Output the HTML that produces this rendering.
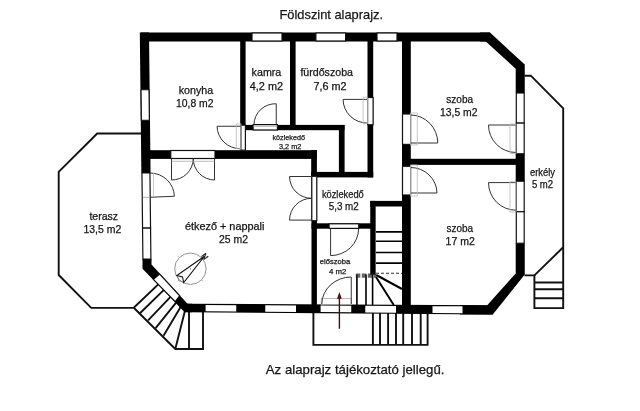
<!DOCTYPE html>
<html><head><meta charset="utf-8">
<style>
html,body{margin:0;padding:0;background:#fff;}
body{width:640px;height:411px;overflow:hidden;}
svg{display:block;will-change:transform;transform:translateZ(0);}
text{font-family:"Liberation Sans",sans-serif;fill:#161616;stroke:#161616;stroke-width:0.25;}
.w{fill:#000;}
.f{fill:#fff;stroke:#111;stroke-width:1.2;}
.l{fill:none;stroke:#111;stroke-width:1.9;}
.d{fill:none;stroke:#333;stroke-width:1;}
.g{fill:none;stroke:#bbb;stroke-width:0.8;}
.s{fill:none;stroke:#000;stroke-width:2;}
</style></head><body>
<svg width="640" height="411" viewBox="0 0 640 411">
<rect width="640" height="411" fill="#fff"/>

<!-- terrace outline -->
<path class="l" d="M141 133.5 L97.2 133.5 L58.7 171.8 L58.7 275 L91.2 307.9 L134 307.9"/>
<!-- balcony outline -->
<path class="l" d="M524.5 75.7 L530.8 75.7 L563.2 108.3 L563.2 308.1 L534.4 308.1 L534.4 275.4 L524.5 275.4"/>
<path class="l" d="M563.2 247.3 L534.4 275.4"/>
<path class="l" d="M534.4 282.5H563.2M534.4 289.2H563.2M534.4 298.25H563.2"/>

<!-- front porch -->
<path class="l" d="M313.4 312 V344.9 H427.6 V312"/>
<path class="l" d="M372.9 312V345M380 312V345M388.1 312V345M396 312V345M403.2 312V345M412 312V345M420.7 312V345"/>

<!-- terrace stairs -->
<path class="l" d="M134 308 L175.3 349 H203 V310" style="stroke-width:1.9"/>
<path class="l" d="M134 307.5 L158.8 283.9 M139.7 313.5 L164.9 288.9 M148.1 320.3 L170.5 296.8 M155.6 328.1 L176.3 302.4 M163.5 335.7 L181.2 305.9 M175.3 349 L185.4 309.1 M189 310 V349" style="stroke-width:1.9"/>

<!-- OUTER WALLS -->
<!-- top -->
<rect class="w" x="141" y="32.5" width="349" height="9"/>
<!-- NE diagonal + right wall upper -->
<polygon class="w" points="490,32.5 524.75,64.6 524.75,93 515.7,93 515.7,68.8 485.8,41.5 480,41.5 480,32.5"/>
<!-- right wall -->
<rect class="w" x="515.7" y="153.75" width="9.05" height="27.5"/>
<polygon class="w" points="515.7,243.2 524.75,243.2 524.75,274.4 492.8,314.6 460,314.4 460,305.1 487,305.5 515.7,273.4"/>
<!-- bottom wall -->
<polygon class="w" points="186,303.75 487,305.2 492.8,314.6 184.4,312.3"/>
<!-- SW diagonal + left lower -->
<polygon class="w" points="142.5,259 151.5,259 151.5,264.4 187.5,303.75 192,303.75 192,312.3 184.4,312.1 142.5,268.75"/>
<!-- left wall -->
<g transform="matrix(1,0,0.011,1,-1.55,0)"><rect class="w" x="141" y="32.5" width="9.2" height="140.5"/>

<rect class="f" x="141.6" y="89.75" width="8" height="30.5"/>
<rect class="f" x="141.6" y="173" width="8" height="55.1"/>
<path class="g" d="M142.2 197.3H149" style="stroke:#999"/>
<rect class="f" x="141.6" y="228.1" width="8" height="31"/>
</g>
<!-- INTERIOR WALLS -->
<rect class="w" x="240.2" y="41" width="5.4" height="84.5"/>
<rect class="w" x="290" y="41" width="5.6" height="84.5"/>
<rect class="w" x="245" y="124.9" width="99.5" height="5.3"/>
<rect class="w" x="338.9" y="125" width="5.7" height="52"/>
<rect class="w" x="149" y="150.2" width="167.9" height="8.7"/>
<rect class="w" x="311.2" y="150" width="5.7" height="26.5"/>
<rect class="w" x="311.2" y="171.9" width="62" height="5.5"/>
<rect class="w" x="367.5" y="41" width="5.7" height="136.4"/>
<rect class="w" x="402" y="41" width="8.8" height="264"/>
<rect class="w" x="410" y="158.8" width="107" height="6.1"/>
<rect class="w" x="311.5" y="176" width="5.4" height="129"/>
<rect class="w" x="311.5" y="223.3" width="60" height="5.4"/>
<rect class="w" x="370.25" y="200.9" width="33" height="5.6"/>
<rect class="w" x="370.25" y="200.9" width="5.4" height="73.9"/>

<!-- WINDOWS (white frames) -->
<!-- top -->
<rect class="f" x="252" y="33" width="30" height="8"/>
<rect class="f" x="315.9" y="33" width="29.7" height="8"/>
<rect class="f" x="377" y="33" width="20" height="8"/>
<!-- left -->

<!-- right -->
<rect class="f" x="516.3" y="93" width="7.9" height="30.1"/>
<rect class="f" x="516.3" y="123.1" width="7.9" height="30.65"/>
<rect class="f" x="516.3" y="181.25" width="7.9" height="30.5"/>
<rect class="f" x="516.3" y="211.75" width="7.9" height="31.5"/>
<!-- bottom -->
<polygon fill="#fff" points="205.6,305.04 236.25,305.19 236.25,311.49 205.6,311.26"/>
<polygon fill="#fff" points="265.25,305.33 296,305.48 296,311.93 265.25,311.70"/>
<polygon fill="#fff" points="320.6,305.60 351.25,305.75 351.25,312.34 320.6,312.12"/>
<polygon fill="#fff" points="365.25,305.81 396,305.96 396,312.68 365.25,312.45"/>
<polygon fill="#fff" points="432.5,306.14 462.5,306.28 462.5,313.17 432.5,312.95"/>
<!-- SW diagonal window -->
<polygon class="f" points="153.4,279.4 159.7,274 179.7,295.8 175.2,301.6"/>

<!-- interior door frames -->
<rect class="f" x="170.75" y="150.5" width="44.25" height="8"/>
<rect class="f" x="241" y="125.2" width="4.4" height="25"/>
<rect class="f" x="253.1" y="124.6" width="24.3" height="5.4"/><path class="g" d="M253.1 126.2H277.4" style="stroke:#999"/>
<rect class="f" x="367.6" y="97.5" width="5.5" height="27.25"/>
<rect class="f" x="402.5" y="114" width="8.1" height="30.4"/>
<rect class="f" x="402.5" y="166.25" width="8.1" height="28.75"/>
<rect class="f" x="311.8" y="176.25" width="5" height="44.5"/>
<rect class="f" x="329.1" y="223.8" width="29.65" height="4.6"/>

<!-- doors -->
<!-- kitchen double door -->
<path class="d" d="M171.5 158.75 V180 A21.5 21.5 0 0 0 193.25 158.75 M214.5 158.75 V180 A21.5 21.5 0 0 1 193.25 158.75"/>
<path class="g" d="M171.5 161.3 H214.5" style="stroke:#aaa"/>
<!-- konyha->kozlekedo door -->
<path class="d" d="M241 126.25 H217.1 A23.5 22.5 0 0 0 240.5 148.75"/><rect class="g" x="236.25" y="124" width="4.75" height="24.75"/>
<!-- kamra door -->
<path class="d" d="M276.25 124.5 V103.75 A21.5 21 0 0 0 254 124.5"/>
<!-- bathroom door -->
<path class="d" d="M367.5 99.4 H343.1 A24.4 23.7 0 0 0 367.5 123.1"/><rect class="g" x="363.1" y="97.2" width="4.4" height="26.5"/>
<!-- szoba 13.5 door -->
<path class="d" d="M410.6 143 H437.75 A27.5 28 0 0 0 410.6 115"/>
<rect class="g" x="410.6" y="113" width="6.65" height="32"/>
<!-- szoba 17 door -->
<path class="d" d="M410.6 193 H437 A26.4 26 0 0 0 410.6 167.5"/>
<rect class="g" x="410.6" y="165" width="6.65" height="31"/>
<!-- double door etkezo -->
<path class="d" d="M311.5 176.5 H289.5 A22 22 0 0 0 311.5 198.3 A22 22 0 0 0 289.5 220.1 H311.5"/>
<!-- eloszoba door -->
<path class="d" d="M330.6 228.7 V255.6 A28 27 0 0 0 358.6 228.7"/>
<!-- terasz door -->
<path class="d" d="M150 197.25 L174.4 196.25 A24.4 24 0 0 0 150 173"/>
<path class="g" d="M153.5 173 V197"/>
<!-- erkely doors -->
<path class="d" d="M516 125 H488.5 A27.5 27.5 0 0 0 516 152.5"/>
<rect class="g" x="510" y="124" width="6" height="29.5"/>
<path class="d" d="M516 182.6 H488.5 A27.5 27.5 0 0 0 516 210.2"/>
<rect class="g" x="510" y="181.8" width="6" height="30.2"/>
<!-- front door -->
<rect class="g" x="321.25" y="298.5" width="30" height="6" style="stroke:#aaa"/>
<path class="d" d="M351.25 304 V277 A29.5 27.5 0 0 0 321.75 304"/>

<!-- inner stairs -->
<path class="s" d="M376 231.9H402.5M376 241.25H402.5M376 252.5H402.5M376 263.1H402.5" style="stroke-width:1.6"/>
<path class="s" d="M376.25 275 L402 289 M376 277 L393.75 305"/>
<path class="s" d="M356.9 274.5V305M366 274.5V305M372.6 274.5V305" style="stroke-width:1.6"/>
<path class="d" d="M376 273.25H402" stroke-dasharray="3 2"/>
<path d="M355.8 275.6H376" stroke="#222" stroke-width="4.2" opacity="0.7" stroke-dasharray="4.5 1.5"/>

<!-- red arrow -->
<path d="M339.4 295 V328.75" stroke="#470c12" stroke-width="1.4" fill="none"/>
<path d="M339.4 292 L337.1 298.75 L341.7 298.75 Z" fill="#470c12"/>

<!-- compass -->
<circle cx="190.4" cy="268.75" r="15.7" fill="none" stroke="#888" stroke-width="0.9"/>
<path d="M179.2 257.6 L177.8 256.2 M201.6 279.9 L203 281.3 M179.2 279.9 L177.9 281.2" stroke="#999" stroke-width="0.8" fill="none"/>
<path d="M176.9 275.6 L179 280.6 L183.75 282.5" fill="none" stroke="#777" stroke-width="0.8"/>
<path d="M204.4 256.25 L176.9 275.6 L182.5 276.9 L183.75 282.5 Z" fill="#fff" stroke="#111" stroke-width="1.1" stroke-linejoin="miter"/>
<circle cx="190.4" cy="268.9" r="0.6" fill="#555"/>
<text x="0" y="0" font-size="7.8" text-anchor="middle" transform="translate(204.9,256.3) rotate(54) translate(0,2.8)" style="stroke-width:0.35">N</text>

<!-- TEXT -->
<text x="279.5" y="19.1" font-size="13.3" textLength="103.5" lengthAdjust="spacingAndGlyphs">Földszint alaprajz.</text>
<text x="265.8" y="373.7" font-size="13.2" textLength="178.7" lengthAdjust="spacingAndGlyphs">Az alaprajz tájékoztató jellegű.</text>

<g>
<text x="178.75" y="93.75" font-size="10.4" textLength="34.35" lengthAdjust="spacingAndGlyphs">konyha</text>
<text x="176" y="107.25" font-size="10.4" textLength="37.5" lengthAdjust="spacingAndGlyphs">10,8 m2</text>
<text x="251.6" y="76" font-size="10.4" textLength="29.7" lengthAdjust="spacingAndGlyphs">kamra</text>
<text x="249.75" y="89.5" font-size="10.4" textLength="33.35" lengthAdjust="spacingAndGlyphs">4,2 m2</text>
<text x="300.4" y="76" font-size="10.4" textLength="52.6" lengthAdjust="spacingAndGlyphs">fürdőszoba</text>
<text x="313.5" y="89.5" font-size="10.4" textLength="33.1" lengthAdjust="spacingAndGlyphs">7,6 m2</text>
<text x="446.25" y="102.5" font-size="10.4" textLength="26.85" lengthAdjust="spacingAndGlyphs">szoba</text>
<text x="440" y="115.7" font-size="10.4" textLength="37.5" lengthAdjust="spacingAndGlyphs">13,5 m2</text>
<text x="185" y="229.5" font-size="10.4" textLength="79.4" lengthAdjust="spacingAndGlyphs">étkező + nappali</text>
<text x="219" y="243.1" font-size="10.4" textLength="29" lengthAdjust="spacingAndGlyphs">25 m2</text>
<text x="89.4" y="219.75" font-size="10.4" textLength="28.7" lengthAdjust="spacingAndGlyphs">terasz</text>
<text x="83.5" y="233.1" font-size="10.4" textLength="37.75" lengthAdjust="spacingAndGlyphs">13,5 m2</text>
<text x="446.5" y="231.9" font-size="10.4" textLength="26.6" lengthAdjust="spacingAndGlyphs">szoba</text>
<text x="445.6" y="244.75" font-size="10.4" textLength="29.15" lengthAdjust="spacingAndGlyphs">17 m2</text>
<text x="530" y="175.6" font-size="10.2" textLength="25" lengthAdjust="spacingAndGlyphs">erkély</text>
<text x="531.9" y="187.75" font-size="10" textLength="21.2" lengthAdjust="spacingAndGlyphs">5 m2</text>
<text x="321.9" y="198.1" font-size="10.2" textLength="41.85" lengthAdjust="spacingAndGlyphs">közlekedő</text>
<text x="328.75" y="210" font-size="10" textLength="30.0" lengthAdjust="spacingAndGlyphs">5,3 m2</text>
<text x="272.5" y="139.6" font-size="7.7" textLength="32.5" lengthAdjust="spacingAndGlyphs">közlekedő</text>
<text x="279" y="149" font-size="7.5" textLength="22.25" lengthAdjust="spacingAndGlyphs">3,2 m2</text>
<text x="319.75" y="263.5" font-size="7.4" textLength="30.5" lengthAdjust="spacingAndGlyphs">előszoba</text>
<text x="329" y="273.75" font-size="7.6" textLength="17.5" lengthAdjust="spacingAndGlyphs">4 m2</text>
</g>
</svg>
</body></html>
